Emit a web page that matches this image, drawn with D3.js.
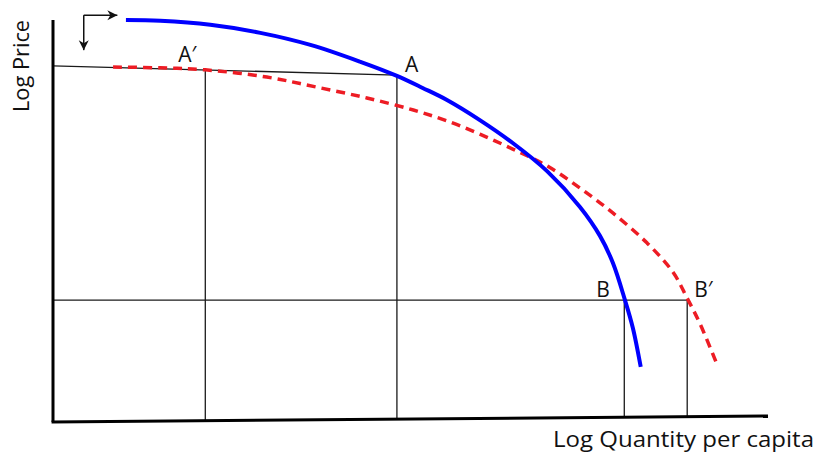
<!DOCTYPE html>
<html>
<head>
<meta charset="utf-8">
<script src="https://cdn.jsdelivr.net/npm/d3@7"></script>
<style>
  body { margin: 0; background: #fff; }
  text { font-family: "Open Sans", "Noto Sans", sans-serif; fill: #111; }
</style>
</head>
<body>
<svg class="chart"></svg>
<script>
// demand curves, log quantity (0-100) vs log price (0-100)
var blueQ = [10.2, 15.0, 22.0, 29.0, 36.0, 43.0, 48.1, 51.7, 55.1, 59.7, 64.3, 69.1, 73.7, 76.5, 78.3, 80.0, 81.1, 82.2];
var blueP = [100, 99.8, 98.8, 96.8, 93.8, 89.6, 86.1, 83.1, 80.1, 75.1, 69.4, 62.4, 53.5, 46.3, 39.6, 30.3, 23.4, 13.7];
var redQ = [8.4, 15.0, 21.3, 29.9, 36.9, 43.9, 50.4, 55.1, 59.7, 64.3, 69.1, 73.7, 78.3, 83.1, 86.7, 88.7, 90.5, 92.9];
var redP = [88.3, 88.1, 87.6, 85.8, 83.3, 80.6, 77.6, 74.9, 71.6, 67.9, 63.7, 58.2, 52.0, 44.5, 37.3, 30.8, 24.4, 14.2];

// marked points and their labels
var pointNames = ["A\u2032", "A", "B", "B\u2032"];
var pointQ = [21.3, 48.1, 79.9, 88.7];
var pointP = [87.6, 86.3, 30.3, 30.3];

// guide lines from the price axis
var topLineP = [88.6, 86.3];   // start at axis, end at A
var bottomLineP = 30.3;
var axisTilt = 1.5;            // x axis rises a bit toward the right

// the little shift arrows at the top left
var arrowQ = [4.3, 9.0];
var arrowP = [101.2, 92.5];

var gwidth = 819, gheight = 453;
var margin = {top: 20, right: 51, bottom: 31, left: 53},
    width = gwidth - margin.left - margin.right,
    height = gheight - margin.top - margin.bottom;

var svg = d3.select(".chart")
  .attr("width", gwidth)
  .attr("height", gheight);

var defs = svg.append("defs");
defs.append("marker")
  .attr("id", "head")
  .attr("viewBox", "-11 -6 12 12")
  .attr("refX", 0).attr("refY", 0)
  .attr("markerWidth", 12).attr("markerHeight", 12)
  .attr("markerUnits", "userSpaceOnUse")
  .attr("orient", "auto")
  .append("path")
  .attr("d", "M0,0 L-10,-5 L-7,0 L-10,5 Z")
  .attr("fill", "#111");

var chart = svg.append("g")
  .attr("transform", "translate(" + margin.left + "," + margin.top + ")");

var x = d3.scaleLinear().domain([0, 100]).range([0, width]);
var y = d3.scaleLinear().domain([0, 100]).range([height, 0]);

var line = d3.line()
  .x(function(d) { return x(d[0]); })
  .y(function(d) { return y(d[1]); });
var curve = d3.line()
  .curve(d3.curveCatmullRom.alpha(0.5))
  .x(function(d) { return x(d[0]); })
  .y(function(d) { return y(d[1]); });

function axisAt(q) { return axisTilt * q / 100; }

// guide lines
var guides = chart.append("g")
  .attr("fill", "none")
  .attr("stroke", "#1a1a1a")
  .attr("stroke-width", 1.3);
guides.append("path")
  .attr("d", line([[0, topLineP[0]], [pointQ[1], topLineP[1]]]));
guides.append("path")
  .attr("d", line([[0, bottomLineP], [pointQ[3], bottomLineP]]));
pointQ.forEach(function(q, i) {
  guides.append("path")
    .attr("d", line([[q, pointP[i]], [q, axisAt(q)]]));
});

// curves
chart.append("path")
  .attr("d", curve(d3.zip(redQ, redP)))
  .attr("fill", "none")
  .attr("stroke", "#ed1c24")
  .attr("stroke-width", 3.5)
  .attr("stroke-dasharray", "9,6");
chart.append("path")
  .attr("d", curve(d3.zip(blueQ, blueP)))
  .attr("fill", "none")
  .attr("stroke", "#0000ff")
  .attr("stroke-width", 4);

// axes (plain lines, no ticks)
chart.append("path")
  .attr("d", line([[0, 100], [0, 0]]))
  .attr("stroke", "#000").attr("stroke-width", 3);
chart.append("path")
  .attr("d", line([[-0.2, 0], [100, axisAt(100)]]))
  .attr("stroke", "#000").attr("stroke-width", 3);

// arrows
chart.append("path")
  .attr("d", line([[arrowQ[0], arrowP[0]], [arrowQ[1], arrowP[0]]]))
  .attr("stroke", "#111").attr("stroke-width", 1.5)
  .attr("marker-end", "url(#head)");
chart.append("path")
  .attr("d", line([[arrowQ[0], arrowP[0]], [arrowQ[0], arrowP[1]]]))
  .attr("stroke", "#111").attr("stroke-width", 1.5)
  .attr("marker-end", "url(#head)");

// point labels
var labelDx = [-27, 8, -28, 7];
var labelDy = [-8, -3, -3, -3];
chart.selectAll(".plabel")
  .data(pointNames)
  .enter()
  .append("text")
  .attr("class", "plabel")
  .attr("x", function(d, i) { return x(pointQ[i]) + labelDx[i]; })
  .attr("y", function(d, i) { return y(pointP[i]) + labelDy[i]; })
  .style("font-size", "21px")
  .text(function(d) { return d; });

// axis titles
svg.append("text")
  .attr("transform", "translate(29,66) rotate(-90)")
  .style("text-anchor", "middle")
  .style("font-size", "21px")
  .attr("textLength", 92)
  .attr("lengthAdjust", "spacingAndGlyphs")
  .text("Log Price");
svg.append("text")
  .attr("x", 814)
  .attr("y", 447)
  .style("text-anchor", "end")
  .style("font-size", "21px")
  .attr("textLength", 261)
  .attr("lengthAdjust", "spacingAndGlyphs")
  .text("Log Quantity per capita");
</script>
</body>
</html>
